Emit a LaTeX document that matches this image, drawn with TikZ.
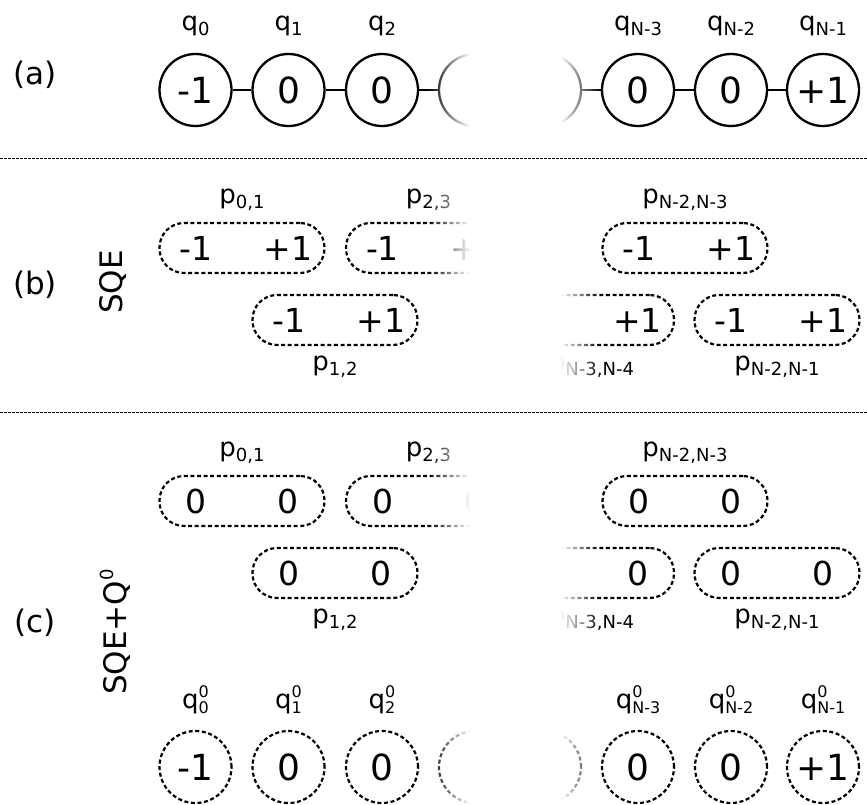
\documentclass[tikz,border=0pt]{standalone}
\usepackage{fontspec}
\setmainfont{DejaVu Sans}
\usetikzlibrary{fadings}
\tikzfading[name=fadein, left color=transparent!100, right color=transparent!0]
\tikzfading[name=fadeout, left color=transparent!0, right color=transparent!100]
\newcommand\sbs[1]{\raisebox{-5pt}{\fontsize{18}{18}\selectfont #1}}
\newcommand\sbsp[2]{\makebox[0pt][l]{\raisebox{10.5pt}{\fontsize{16}{16}\selectfont #1}}\raisebox{-5pt}{\fontsize{16}{16}\selectfont #2}}
\begin{document}
\begin{tikzpicture}[x=1pt,y=-1pt,
  qnode/.style={circle, draw, line width=2.3pt, minimum size=72pt, inner sep=0pt, font=\fontsize{36}{40}\selectfont},
  qdash/.style={qnode, dash pattern=on 4pt off 2.6pt, line width=2.2pt},
  pbox/.style={draw, rounded corners=24.5pt, minimum width=165pt, minimum height=50pt, dash pattern=on 4pt off 2.6pt, line width=2.2pt},
  pval/.style={inner sep=0pt, font=\fontsize{33}{36}\selectfont},
  lab/.style={inner sep=0pt, font=\fontsize{26}{28}\selectfont},
  sec/.style={inner sep=0pt, font=\fontsize{31}{34}\selectfont},
  conn/.style={line width=2.3pt},
  sep/.style={line width=0.8pt, dash pattern=on 3pt off 1pt}]
\useasboundingbox (0,0) rectangle (867,805);
\fill[white] (0,0) rectangle (867,805);
% separators
\coordinate (s1l) at (0,158); \coordinate (s1r) at (867,158);
\coordinate (s2l) at (0,412); \coordinate (s2r) at (867,412);
\draw[sep] (s1l) -- (s1r);
\draw[sep] (s2l) -- (s2r);
% section labels
\node[sec] (la) at (35,75) {(a)};
\node[sec] (lb) at (35,285) {(b)};
\node[sec] (lc) at (35,623) {(c)};
\node[sec, rotate=90] (sqe) at (113,282) {SQE};
\node[sec, rotate=90] (sqeq) at (115,632) {SQE+Q\raisebox{13pt}{\fontsize{18}{18}\selectfont 0}};
% (a)
\foreach \n/\x/\v in {0/195.5/-1, 1/288.5/0, 2/382/0, 3/475/{}, 4/545/{}, 5/638/0, 6/731/0, 7/823/+1}
  \node[qnode] (a\n) at (\x,90) {\v};
\foreach \a/\b in {0/1,1/2,2/3,4/5,5/6,6/7}
  \draw[conn] (a\a) -- (a\b);
\node[lab] (ql0) at (195.5,26) {q\sbs{0}};
\node[lab] (ql1) at (288.5,26) {q\sbs{1}};
\node[lab] (ql2) at (382,26) {q\sbs{2}};
\node[lab] (ql5) at (638,26) {q\sbs{N-3}};
\node[lab] (ql6) at (731,26) {q\sbs{N-2}};
\node[lab] (ql7) at (823,26) {q\sbs{N-1}};
% (b) and (c)
\foreach \s/\dy/\va/\vb in {b/0/-1/+1, c/253/0/0}{
  \foreach \k/\x/\r in {01/242/0, 12/335/1, 23/428.5/0, N4/591.5/1, N3/685/0, N1/777/1}{
    \node[pbox] (\s\k) at (\x,248+\dy+72*\r) {};
    \node[pval] (\s\k a) at ([xshift=-46pt]\s\k.center) {\va};
    \node[pval] (\s\k b) at ([xshift=46pt]\s\k.center) {\vb};
  }
  \node[lab] (\s l01) at (242,200+\dy) {p\sbs{0,1}};
  \node[lab] (\s l23) at (428.5,200+\dy) {p\sbs{2,3}};
  \node[lab] (\s lN3) at (685,200+\dy) {p\sbs{N-2,N-3}};
  \node[lab] (\s l12) at (335,367+\dy) {p\sbs{1,2}};
  \node[lab] (\s lN4) at (591.5,367+\dy) {p\sbs{N-3,N-4}};
  \node[lab] (\s lN1) at (777,367+\dy) {p\sbs{N-2,N-1}};
}
% (c) bottom circles
\foreach \n/\x/\v in {0/195.5/-1, 1/288.5/0, 2/382/0, 3/475/{}, 4/545/{}, 5/638/0, 6/731/0, 7/823/+1}
  \node[qdash] (c\n) at (\x,767) {\v};
\node[lab] (cq0) at (195.5,700) {q\sbsp{0}{0}};
\node[lab] (cq1) at (288.5,700) {q\sbsp{0}{1}};
\node[lab] (cq2) at (382,700) {q\sbsp{0}{2}};
\node[lab] (cq5) at (638,700) {q\sbsp{0}{N-3}};
\node[lab] (cq6) at (731,700) {q\sbsp{0}{N-2}};
\node[lab] (cq7) at (823,700) {q\sbsp{0}{N-1}};
% fading of the gap
\foreach \ya/\yb in {0/150, 165/405, 420/805}{
  \fill[white, path fading=fadein] (428,\ya) rectangle (470,\yb);
  \fill[white] (469.5,\ya) rectangle (560.5,\yb);
  \fill[white, path fading=fadeout] (560,\ya) rectangle (600,\yb);
}
\end{tikzpicture}
\end{document}
